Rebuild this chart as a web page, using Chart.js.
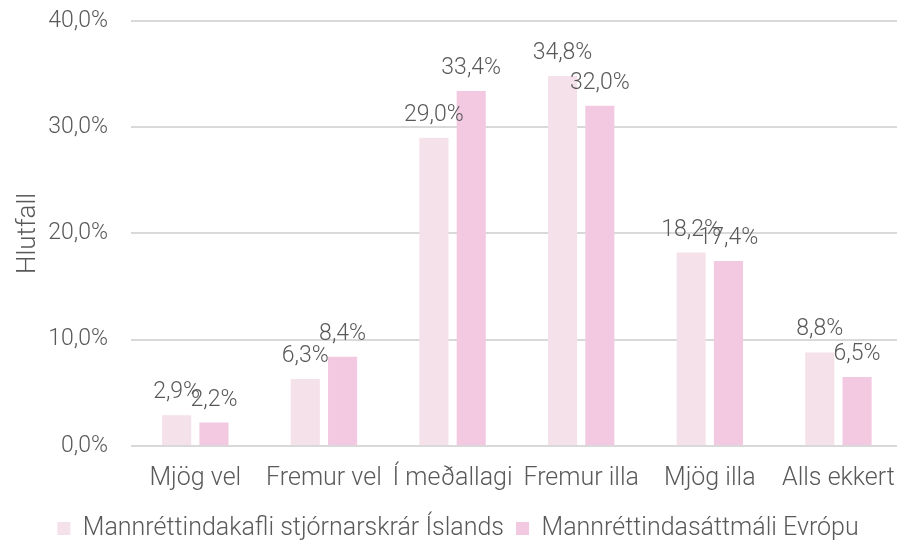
<!DOCTYPE html>
<html>
<head>
<meta charset="utf-8">
<script src="https://cdn.jsdelivr.net/npm/chart.js@4"></script>
<style>
  html, body { margin:0; padding:0; background:#fff; overflow:hidden; width:897px; height:540px; }
  #c { position:absolute; left:0; top:-16px; }
</style>
</head>
<body>
<canvas id="c" width="905" height="567"></canvas>
<script>
// ═══ DATA ═══
const categories = ['Mjög vel', 'Fremur vel', 'Í meðallagi', 'Fremur illa', 'Mjög illa', 'Alls ekkert'];
const seriesNames = ['Mannréttindakafli stjórnarskrár Íslands', 'Mannréttindasáttmáli Evrópu'];
const islandsValues = [2.9, 6.3, 29.0, 34.8, 18.2, 8.8];
const evropaValues = [2.2, 8.4, 33.4, 32.0, 17.4, 6.5];
const yTicks = [0, 10, 20, 30, 40];

const FONT = "Roboto, sans-serif";
const TXT = '#595959';
const fmtPct = v => v.toFixed(1).replace('.', ',') + '%';

// value labels above bars
const barLabels = {
    id: 'barLabels',
    afterDatasetsDraw(chart) {
        const ctx = chart.ctx;
        ctx.save();
        ctx.font = `300 23px ${FONT}`;
        ctx.fillStyle = TXT;
        ctx.textAlign = 'center';
        ctx.textBaseline = 'alphabetic';
        chart.data.datasets.forEach((ds, i) => {
            chart.getDatasetMeta(i).data.forEach((el, j) => {
                ctx.fillText(fmtPct(ds.data[j]), el.x, el.y - 17);
            });
        });
        ctx.restore();
    }
};

new Chart(document.getElementById('c'), {
    type: 'bar',
    data: {
        labels: categories,
        datasets: [
            { label: seriesNames[0], data: islandsValues, backgroundColor: '#F5E1EA', barPercentage: 0.78, categoryPercentage: 0.58 },
            { label: seriesNames[1], data: evropaValues, backgroundColor: '#F2C9E1', barPercentage: 0.78, categoryPercentage: 0.58 }
        ]
    },
    options: {
        responsive: false, animation: false,
        layout: { padding: { left: 13, right: 2, top: 0, bottom: 0 } },
        plugins: {
            legend: {
                position: 'bottom',
                labels: { boxWidth: 13, boxHeight: 13, padding: 12, color: TXT, font: { family: FONT, size: 25, weight: 300 } }
            },
            tooltip: { enabled: false }
        },
        scales: {
            x: {
                grid: { display: false },
                border: { display: false },
                ticks: { color: TXT, font: { family: FONT, size: 25, weight: 300 }, padding: 10, maxRotation: 0, autoSkip: false }
            },
            y: {
                min: 0, max: 40,
                afterBuildTicks: axis => { axis.ticks = yTicks.map(v => ({ value: v })); },
                afterFit: axis => { axis.width = 118; },
                grid: { color: '#D9D9D9', lineWidth: 2, drawTicks: false },
                border: { display: false },
                ticks: { color: TXT, font: { family: FONT, size: 23, weight: 300 }, padding: 23, callback: v => fmtPct(v) },
                title: { display: true, text: 'Hlutfall', color: TXT, font: { family: FONT, size: 26, weight: 300 }, padding: 0 }
            }
        }
    },
    plugins: [barLabels]
});
</script>
</body>
</html>
